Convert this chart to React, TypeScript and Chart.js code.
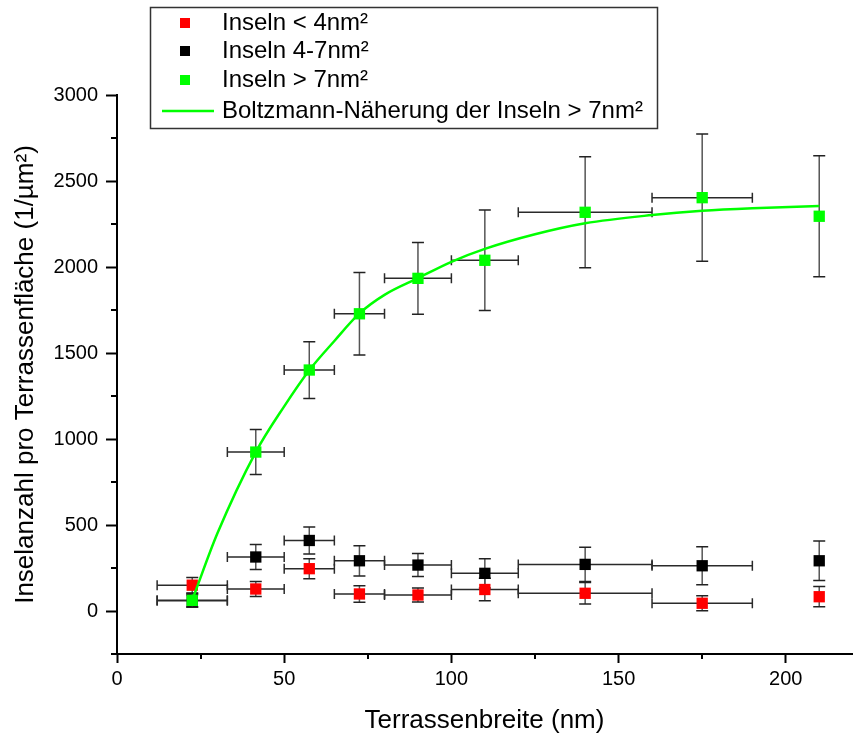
import React, { useEffect, useRef } from 'react';
import { Chart, registerables } from 'chart.js';

Chart.register(...registerables);

// ---- data ----
const terraceWidth = [22.5, 41.5, 57.5, 72.5, 90, 110, 140, 175, 210];
const terraceWidthErr = [10.5, 8.5, 7.5, 7.5, 10, 10, 20, 15, 0];

const smallIslands = [150, 128, 246, 99, 93, 125, 103, 45, 83];
const smallIslandsErr = [45, 43, 58, 48, 40, 65, 62, 43, 59];

const mediumIslands = [60, 314, 410, 292, 267, 219, 271, 263, 292];
const mediumIslandsErr = [35, 73, 78, 88, 67, 85, 100, 111, 115];

const largeIslands = [62, 924, 1401, 1728, 1934, 2039, 2318, 2403, 2295];
const largeIslandsErr = [40, 131, 165, 240, 208, 292, 323, 370, 352];

const fitX = [23, 30, 41.5, 50, 57.5, 65, 72.5, 80, 90, 100, 110, 125, 140, 160, 175, 190, 210];
const fitY = [90, 450, 924, 1190, 1400, 1570, 1730, 1838, 1935, 2030, 2105, 2190, 2254, 2302, 2327, 2342, 2355];

const xTicks = [0, 50, 100, 150, 200];
const yTicks = [0, 500, 1000, 1500, 2000, 2500, 3000];
const xMinorTicks = [25, 75, 125, 175];
const yMinorTicks = [-250, 250, 750, 1250, 1750, 2250, 2750];

const legendLabels = [
  'Inseln < 4nm²',
  'Inseln 4-7nm²',
  'Inseln > 7nm²',
  'Boltzmann-Näherung der Inseln > 7nm²',
];

const xTitle = 'Terrassenbreite (nm)';
const yTitle = 'Inselanzahl pro Terrassenfläche (1/µm²)';

const FONT = '"Liberation Sans", Arial, Helvetica, sans-serif';
const RED = '#ff0000';
const BLACK = '#000000';
const GREEN = '#00ff00';

const toPoints = (xs: number[], ys: number[]) => xs.map((x, i) => ({ x, y: ys[i] }));

const errorBarPlugin = {
  id: 'errorBars',
  beforeDatasetsDraw(chart: any) {
    const ctx = chart.ctx;
    const xs = chart.scales.x;
    const ys = chart.scales.y;
    ctx.save();
    ctx.lineWidth = 1.5;
    const sets = chart.data.datasets.slice().sort((a: any, b: any) => (b.order || 0) - (a.order || 0));
    sets.forEach((ds: any) => {
      if (!ds.errorBars) return;
      const ex: number[] = ds.errorBars.x;
      const ey: number[] = ds.errorBars.y;
      ds.data.forEach((p: any, i: number) => {
        const px = xs.getPixelForValue(p.x);
        const py = ys.getPixelForValue(p.y);
        if (ex[i] > 0) {
          const x1 = xs.getPixelForValue(p.x - ex[i]);
          const x2 = xs.getPixelForValue(p.x + ex[i]);
          ctx.strokeStyle = '#2a2a2a';
          ctx.beginPath();
          ctx.moveTo(x1, py);
          ctx.lineTo(x2, py);
          ctx.moveTo(x1, py - 5);
          ctx.lineTo(x1, py + 5);
          ctx.moveTo(x2, py - 5);
          ctx.lineTo(x2, py + 5);
          ctx.stroke();
        }
        if (ey[i] > 0) {
          const y1 = ys.getPixelForValue(p.y - ey[i]);
          const y2 = ys.getPixelForValue(p.y + ey[i]);
          ctx.strokeStyle = '#555555';
          ctx.beginPath();
          ctx.moveTo(px, y1);
          ctx.lineTo(px, y2);
          ctx.stroke();
          ctx.strokeStyle = '#222222';
          ctx.beginPath();
          ctx.moveTo(px - 6, y1);
          ctx.lineTo(px + 6, y1);
          ctx.moveTo(px - 6, y2);
          ctx.lineTo(px + 6, y2);
          ctx.stroke();
        }
      });
    });
    ctx.restore();
  },
};

const minorTickPlugin = {
  id: 'minorTicks',
  afterDraw(chart: any) {
    const ctx = chart.ctx;
    const xs = chart.scales.x;
    const ys = chart.scales.y;
    const area = chart.chartArea;
    ctx.save();
    ctx.strokeStyle = '#000';
    ctx.lineWidth = 2;
    ctx.beginPath();
    xMinorTicks.forEach((v) => {
      const px = Math.round(xs.getPixelForValue(v));
      ctx.moveTo(px, area.bottom);
      ctx.lineTo(px, area.bottom + 5);
    });
    yMinorTicks.forEach((v) => {
      const py = Math.round(ys.getPixelForValue(v));
      ctx.moveTo(area.left - 6, py);
      ctx.lineTo(area.left, py);
    });
    ctx.stroke();
    ctx.restore();
  },
};

const legendPlugin = {
  id: 'boxLegend',
  afterDraw(chart: any) {
    const ctx = chart.ctx;
    ctx.save();
    const bx = 150, by = 7, bw = 507, bh = 121;
    ctx.fillStyle = '#ffffff';
    ctx.fillRect(bx, by, bw, bh);
    ctx.strokeStyle = '#333';
    ctx.lineWidth = 1.5;
    ctx.strokeRect(bx + 0.5, by + 0.5, bw, bh);
    const rows = [23, 51, 80, 111];
    const colors = [RED, BLACK, GREEN];
    ctx.font = `24px ${FONT}`;
    ctx.textBaseline = 'middle';
    legendLabels.forEach((label, i) => {
      const y = rows[i];
      if (i < 3) {
        ctx.fillStyle = colors[i];
        ctx.fillRect(180, y - 5, 10, 10);
      } else {
        ctx.strokeStyle = GREEN;
        ctx.lineWidth = 2.5;
        ctx.beginPath();
        ctx.moveTo(162, y);
        ctx.lineTo(214, y);
        ctx.stroke();
      }
      ctx.fillStyle = '#000';
      ctx.fillText(label, 222, y);
    });
    ctx.restore();
  },
};

export default function App() {
  const ref = useRef<HTMLCanvasElement | null>(null);

  useEffect(() => {
    if (!ref.current) return;
    const chart = new Chart(ref.current, {
      type: 'scatter',
      data: {
        datasets: [
          {
            type: 'line',
            label: legendLabels[3],
            data: toPoints(fitX, fitY),
            borderColor: GREEN,
            borderWidth: 2.5,
            pointRadius: 0,
            fill: false,
            cubicInterpolationMode: 'monotone',
            order: 0,
          } as any,
          {
            label: legendLabels[2],
            data: toPoints(terraceWidth, largeIslands),
            backgroundColor: GREEN,
            borderWidth: 0,
            pointStyle: 'rect',
            pointRadius: 8,
            order: 1,
            errorBars: { x: terraceWidthErr, y: largeIslandsErr },
          } as any,
          {
            label: legendLabels[0],
            data: toPoints(terraceWidth, smallIslands),
            backgroundColor: RED,
            borderWidth: 0,
            pointStyle: 'rect',
            pointRadius: 8,
            order: 2,
            errorBars: { x: terraceWidthErr, y: smallIslandsErr },
          } as any,
          {
            label: legendLabels[1],
            data: toPoints(terraceWidth, mediumIslands),
            backgroundColor: BLACK,
            borderWidth: 0,
            pointStyle: 'rect',
            pointRadius: 8,
            order: 3,
            errorBars: { x: terraceWidthErr, y: mediumIslandsErr },
          } as any,
        ],
      },
      options: {
        responsive: false,
        animation: false,
        layout: { padding: { top: 95, right: 0, left: 0, bottom: 0 } },
        plugins: {
          legend: { display: false },
          tooltip: { enabled: false },
        },
        scales: {
          x: {
            type: 'linear',
            min: 0,
            max: 219.8,
            afterBuildTicks: (s: any) => { s.ticks = xTicks.map((v) => ({ value: v })); },
            afterFit: (s: any) => { s.height = 82; },
            border: { display: true, color: '#000', width: 2 },
            grid: { drawOnChartArea: false, drawTicks: true, tickLength: 9, tickColor: '#000', tickWidth: 2 },
            ticks: {
              color: '#000',
              padding: 4,
              maxRotation: 0,
              autoSkip: false,
              callback: (v: any) => String(v),
              font: { family: FONT, size: 20 },
            },
            title: {
              display: true,
              text: xTitle,
              color: '#000',
              font: { family: FONT, size: 26 },
              padding: { top: 0, bottom: 0 },
            },
          },
          y: {
            type: 'linear',
            min: -250,
            max: 3000,
            afterBuildTicks: (s: any) => { s.ticks = yTicks.map((v) => ({ value: v })); },
            afterFit: (s: any) => { s.width = 117; },
            border: { display: true, color: '#000', width: 2 },
            grid: { drawOnChartArea: false, drawTicks: true, tickLength: 11, tickColor: '#000', tickWidth: 2 },
            ticks: {
              color: '#000',
              padding: 8,
              autoSkip: false,
              callback: (v: any) => String(v),
              font: { family: FONT, size: 20 },
            },
            title: {
              display: true,
              text: yTitle,
              color: '#000',
              font: { family: FONT, size: 26 },
              padding: { top: 10, bottom: 0 },
            },
          },
        },
      },
      plugins: [errorBarPlugin, minorTickPlugin, legendPlugin],
    } as any);
    return () => chart.destroy();
  }, []);

  return (
    <div style={{ position: 'absolute', left: 0, top: 0, width: 860, height: 736, background: '#fff' }}>
      <canvas ref={ref} width={860} height={736} style={{ display: 'block' }} />
    </div>
  );
}
